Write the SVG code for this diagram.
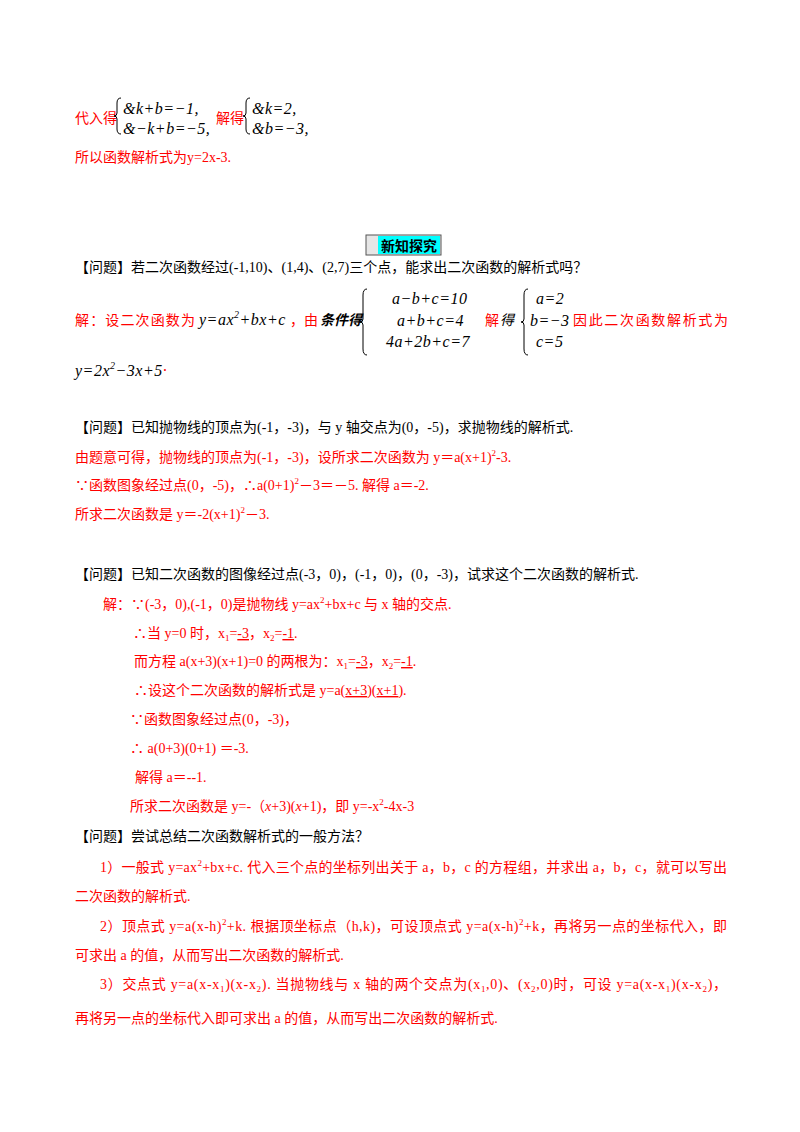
<svg xmlns="http://www.w3.org/2000/svg" width="800" height="1132" viewBox="0 0 800 1132">
<style>
text{font-family:"Liberation Serif","Noto Sans CJK SC",serif;font-size:14px;fill:#000}
.r{fill:#ff0000}
.m{font-family:"Liberation Serif","Noto Sans CJK SC",serif;font-style:italic;font-size:16px;letter-spacing:0.5px}
.u{text-decoration:underline}
.br{fill:none;stroke:#000;stroke-width:1}
</style>
<rect width="800" height="1132" fill="#fff"/>
<g id="sec1">
<text class="r" x="75" y="123">代入得</text>
<path class="br" d="M121,98 q-4,0 -4,5 v10 q0,3 -3,3 q3,0 3,3 v10 q0,5 4,5"/>
<text class="m" x="123" y="114">&amp;k+b=−1,</text>
<text class="m" x="123" y="134">&amp;−k+b=−5,</text>
<text class="r" x="216" y="123">解得</text>
<path class="br" d="M250,98 q-4,0 -4,5 v10 q0,3 -3,3 q3,0 3,3 v10 q0,5 4,5"/>
<text class="m" x="252" y="114">&amp;k=2,</text>
<text class="m" x="252" y="134">&amp;b=−3,</text>
<text class="r" x="75" y="162">所以函数解析式为y=2x-3.</text>
</g>
<g id="header">
<rect x="366" y="235" width="75" height="20" fill="#e6e6e6" stroke="#555"/>
<rect x="378" y="236" width="62" height="18" fill="#00ffff"/>
<text x="409" y="251" text-anchor="middle" font-weight="bold" font-size="15">新知探究</text>
</g>
<g id="q1">
<text x="75" y="272">【问题】若二次函数经过(-1,10)、(1,4)、(2,7)三个点，能求出二次函数的解析式吗？</text>
<text class="r" x="75" y="325" textLength="120">解：设二次函数为</text>
<text class="m" x="199" y="325">y=ax<tspan font-size="10" dy="-7">2</tspan><tspan dy="7">+bx+c</tspan></text>
<text class="r" x="290" y="325">，由</text>
<text x="320" y="325" font-style="italic" font-weight="bold" font-size="16">条件得</text>
<path class="br" d="M367,289 q-4,0 -4,6 v24 q0,3 -3,3 q3,0 3,3 v24 q0,6 4,6"/>
<text class="m" x="392" y="304">a−b+c=10</text>
<text class="m" x="397" y="326">a+b+c=4</text>
<text class="m" x="386" y="347">4a+2b+c=7</text>
<text class="r" x="485" y="325">解</text>
<text x="500" y="325" font-style="italic" font-size="16">得</text>
<path class="br" d="M528,289 q-4,0 -4,6 v24 q0,3 -3,3 q3,0 3,3 v24 q0,6 4,6"/>
<text class="m" x="536" y="304">a=2</text>
<text class="m" x="530" y="326">b=−3</text>
<text class="m" x="536" y="347">c=5</text>
<text class="r" x="573" y="325" textLength="155">因此二次函数解析式为</text>
<text class="m" x="75" y="376">y=2x<tspan font-size="10" dy="-7">2</tspan><tspan dy="7">−3x+5</tspan><tspan fill="#ff0000">·</tspan></text>
</g>
<g id="q2">
<text x="75" y="432">【问题】已知抛物线的顶点为(-1，-3)，与 y 轴交点为(0，-5)，求抛物线的解析式.</text>
<text class="r" x="75" y="462">由题意可得，抛物线的顶点为(-1，-3)，设所求二次函数为 y＝a(x+1)<tspan font-size="9" dy="-6">2</tspan><tspan dy="6">-3.</tspan></text>
<text class="r" x="75" y="490">∵函数图象经过点(0，-5)，∴a(0+1)<tspan font-size="9" dy="-6">2</tspan><tspan dy="6">－3＝－5. 解得 a＝-2.</tspan></text>
<text class="r" x="75" y="519">所求二次函数是 y＝-2(x+1)<tspan font-size="9" dy="-6">2</tspan><tspan dy="6">－3.</tspan></text>
</g>
<g id="q3">
<text x="75" y="579">【问题】已知二次函数的图像经过点(-3，0)，(-1，0)，(0，-3)，试求这个二次函数的解析式.</text>
<text class="r" x="103" y="609">解：∵(-3，0),(-1，0)是抛物线 y=ax<tspan font-size="9" dy="-6">2</tspan><tspan dy="6">+bx+c 与 x 轴的交点.</tspan></text>
<text class="r" x="133" y="638">∴当 y=0 时，x<tspan font-size="9" dy="3">1</tspan><tspan dy="-3">=</tspan><tspan class="u">-3</tspan>，x<tspan font-size="9" dy="3">2</tspan><tspan dy="-3">=</tspan><tspan class="u">-1</tspan>.</text>
<text class="r" x="134" y="666">而方程 a(x+3)(x+1)=0 的两根为：x<tspan font-size="9" dy="3">1</tspan><tspan dy="-3">=</tspan><tspan class="u">-3</tspan>，x<tspan font-size="9" dy="3">2</tspan><tspan dy="-3">=</tspan><tspan class="u">-1</tspan>.</text>
<text class="r" x="134" y="695">∴设这个二次函数的解析式是 y=a(<tspan class="u">x+3</tspan>)(<tspan class="u">x+1</tspan>).</text>
<text class="r" x="130" y="724">∵函数图象经过点(0，-3)，</text>
<text class="r" x="130" y="753">∴ a(0+3)(0+1) ＝-3.</text>
<text class="r" x="135" y="782">解得 a＝--1.</text>
<text class="r" x="130" y="811">所求二次函数是 y=-（<tspan font-style="italic">x</tspan>+3)(<tspan font-style="italic">x</tspan>+1)，即 y=-x<tspan font-size="9" dy="-6">2</tspan><tspan dy="6">-4x-3</tspan></text>
</g>
<g id="q4">
<text x="75" y="841">【问题】尝试总结二次函数解析式的一般方法？</text>
<text class="r" x="100" y="872" textLength="627">1）一般式 y=ax<tspan font-size="9" dy="-6">2</tspan><tspan dy="6">+bx+c. 代入三个点的坐标列出关于 a，b，c 的方程组，并求出 a，b，c，就可以写出</tspan></text>
<text class="r" x="75" y="901">二次函数的解析式.</text>
<text class="r" x="100" y="931" textLength="627">2）顶点式 y=a(x-h)<tspan font-size="9" dy="-6">2</tspan><tspan dy="6">+k. 根据顶坐标点（h,k)，可设顶点式 y=a(x-h)</tspan><tspan font-size="9" dy="-6">2</tspan><tspan dy="6">+k，再将另一点的坐标代入，即</tspan></text>
<text class="r" x="75" y="960">可求出 a 的值，从而写出二次函数的解析式.</text>
<text class="r" x="100" y="989" textLength="627">3）交点式 y=a(x-x<tspan font-size="9" dy="3">1</tspan><tspan dy="-3">)(x-x</tspan><tspan font-size="9" dy="3">2</tspan><tspan dy="-3">). 当抛物线与 x 轴的两个交点为(x</tspan><tspan font-size="9" dy="3">1</tspan><tspan dy="-3">,0)、(x</tspan><tspan font-size="9" dy="3">2</tspan><tspan dy="-3">,0)时，可设 y=a(x-x</tspan><tspan font-size="9" dy="3">1</tspan><tspan dy="-3">)(x-x</tspan><tspan font-size="9" dy="3">2</tspan><tspan dy="-3">)，</tspan></text>
<text class="r" x="75" y="1023">再将另一点的坐标代入即可求出 a 的值，从而写出二次函数的解析式.</text>
</g>
</svg>
